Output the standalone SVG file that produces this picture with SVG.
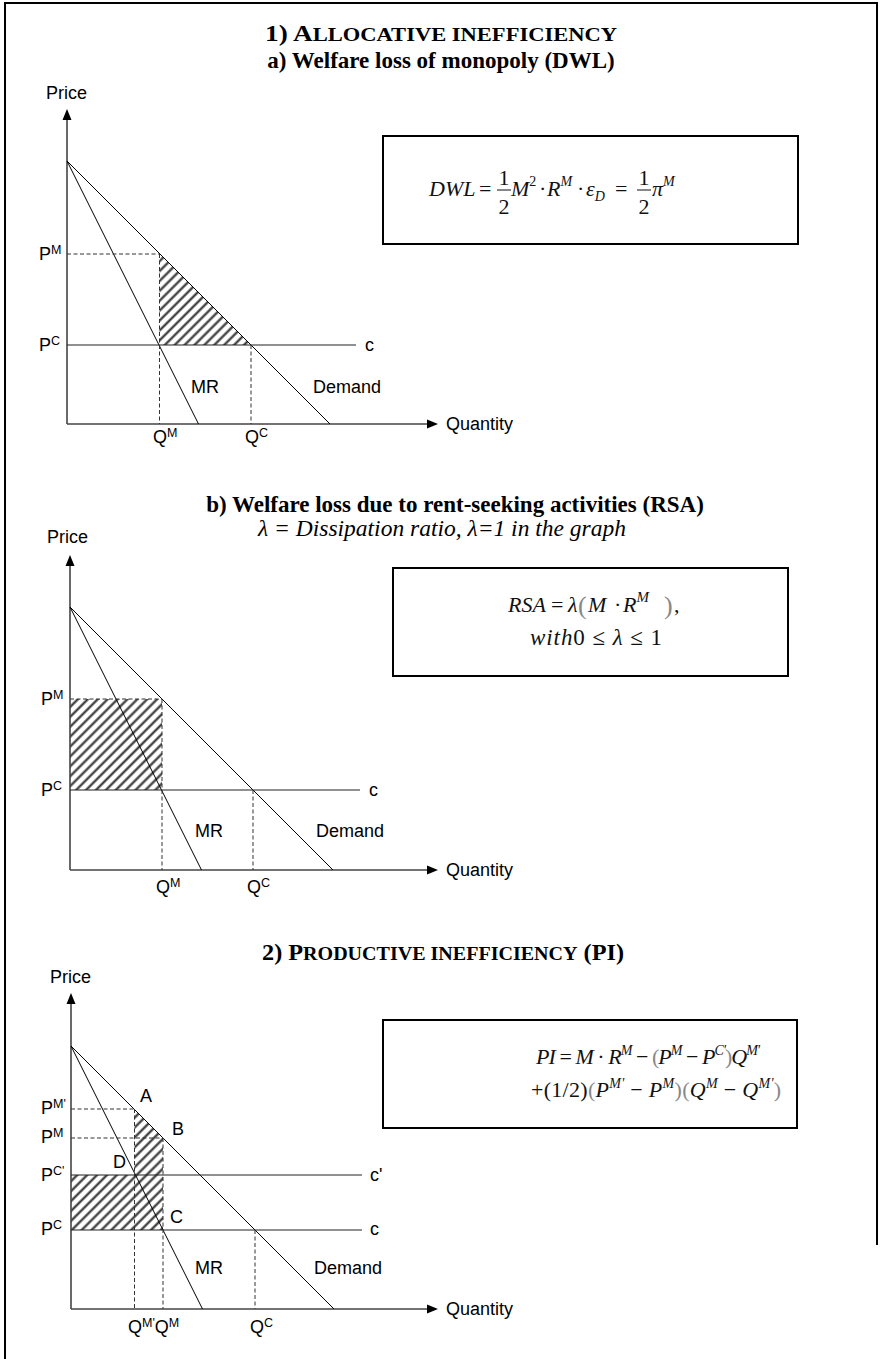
<svg xmlns="http://www.w3.org/2000/svg" width="881" height="1359" viewBox="0 0 881 1359">
<style>
.title{font-family:"Liberation Serif","Times New Roman",serif;font-weight:bold;font-size:23px;fill:#000}
.ital{font-family:"Liberation Serif","Times New Roman",serif;font-style:italic;font-size:23.5px;fill:#000}
.lbl{font-family:"Liberation Sans",Arial,sans-serif;font-size:18px;fill:#000}
.sup{font-size:12.5px}
.math{font-family:"Liberation Serif","Times New Roman",serif;font-style:italic;font-size:22px;fill:#111}
.up{font-style:normal}
.paren{font-style:normal;fill:#888}
.axis{stroke:#444;stroke-width:1.6;fill:none}
.curve{stroke:#000;stroke-width:1;fill:none}
.cost{stroke:#222;stroke-width:1.2;fill:none}
.dash{stroke:#333;stroke-width:1;stroke-dasharray:4 2.5;fill:none}
.box{fill:#fff;stroke:#000;stroke-width:2}
.frame{stroke:#000;stroke-width:2;fill:none}
.head{fill:#000}
.hatch{fill:url(#hatch);stroke:none}
</style>
<defs>
<pattern id="hatch" patternUnits="userSpaceOnUse" width="7" height="7" patternTransform="rotate(45)">
<line x1="3.5" y1="0" x2="3.5" y2="7" stroke="#333" stroke-width="2.2"/>
</pattern>
</defs>
<rect width="881" height="1359" fill="#fff"/>
<path id="frame" class="frame" d="M5,1359 V3 H877 V1245"/>

<g id="titles">
<text class="title" x="441" y="41" text-anchor="middle" textLength="352" lengthAdjust="spacingAndGlyphs">1) A<tspan font-size="19">LLOCATIVE INEFFICIENCY</tspan></text>
<text class="title" x="441" y="68" text-anchor="middle">a) Welfare loss of monopoly (DWL)</text>
<text class="title" x="455" y="512" text-anchor="middle" font-size="22">b) Welfare loss due to rent-seeking activities (RSA)</text>
<text class="ital" x="442" y="536" text-anchor="middle">λ = Dissipation ratio, λ=1 in the graph</text>
<text class="title" x="443" y="960" text-anchor="middle" textLength="362" lengthAdjust="spacingAndGlyphs">2) P<tspan font-size="19">RODUCTIVE INEFFICIENCY</tspan> (PI)</text>
</g>

<!-- Graph 1 -->
<g id="graph-dwl">
<polygon class="hatch" points="159.5,253.5 159.5,345 251,345"/>
<line class="axis" x1="67" y1="424" x2="67" y2="118"/>
<polygon class="head" points="67,109 62.5,120 71.5,120"/>
<line class="axis" x1="67" y1="424" x2="429" y2="424"/>
<polygon class="head" points="438,424 427,419.5 427,428.5"/>
<line class="curve" x1="67" y1="161" x2="330" y2="424"/>
<line class="curve" x1="67" y1="161" x2="198.5" y2="424"/>
<line class="cost" x1="67" y1="345" x2="356" y2="345"/>
<path class="dash" d="M67,254 H159.5 M159.5,254 V424 M251,345 V424"/>
<text class="lbl" x="46" y="99">Price</text>
<text class="lbl" x="39" y="260">P<tspan class="sup" dy="-6">M</tspan></text>
<text class="lbl" x="39" y="351">P<tspan class="sup" dy="-6">C</tspan></text>
<text class="lbl" x="365" y="351">c</text>
<text class="lbl" x="191" y="393">MR</text>
<text class="lbl" x="313" y="393">Demand</text>
<text class="lbl" x="153" y="443">Q<tspan class="sup" dy="-6">M</tspan></text>
<text class="lbl" x="245" y="443">Q<tspan class="sup" dy="-6">C</tspan></text>
<text class="lbl" x="446" y="430">Quantity</text>
</g>

<g id="box-dwl">
<rect class="box" x="383" y="136" width="415" height="108"/>
<g class="math">
<text x="429" y="196">DWL</text>
<text class="up" x="479" y="196">=</text>
<text class="up" x="504" y="185" text-anchor="middle">1</text>
<text class="up" x="504" y="214" text-anchor="middle">2</text>
<text x="511" y="196">M<tspan class="up" font-size="14" dy="-10">2</tspan></text>
<text class="up" x="539" y="196">·</text>
<text x="547" y="196">R<tspan font-size="14" dy="-10">M</tspan></text>
<text class="up" x="577" y="196">·</text>
<text x="586" y="196">ε<tspan font-size="14" dy="5">D</tspan></text>
<text class="up" x="615" y="196">=</text>
<text class="up" x="644" y="185" text-anchor="middle">1</text>
<text class="up" x="644" y="214" text-anchor="middle">2</text>
<text x="652" y="196">π<tspan font-size="14" dy="-10">M</tspan></text>
</g>
<line x1="637" y1="190" x2="651" y2="190" stroke="#111" stroke-width="1"/>
<line x1="497" y1="190" x2="511" y2="190" stroke="#111" stroke-width="1"/>
</g>

<!-- Graph 2 -->
<g id="graph-rsa">
<rect class="hatch" x="70" y="699" width="92" height="91"/>
<line class="axis" x1="70" y1="870" x2="70" y2="564"/>
<polygon class="head" points="70,555 65.5,566 74.5,566"/>
<line class="axis" x1="70" y1="870" x2="429" y2="870"/>
<polygon class="head" points="438,870 427,865.5 427,874.5"/>
<line class="curve" x1="70" y1="607" x2="333" y2="870"/>
<line class="curve" x1="70" y1="607" x2="201.5" y2="870"/>
<line class="cost" x1="70" y1="790" x2="360" y2="790"/>
<path class="dash" d="M70,699 H162 M162,699 V870 M253,790 V870"/>
<text class="lbl" x="47" y="543">Price</text>
<text class="lbl" x="41" y="705">P<tspan class="sup" dy="-6">M</tspan></text>
<text class="lbl" x="41" y="796">P<tspan class="sup" dy="-6">C</tspan></text>
<text class="lbl" x="369" y="796">c</text>
<text class="lbl" x="195" y="837">MR</text>
<text class="lbl" x="316" y="837">Demand</text>
<text class="lbl" x="156" y="893">Q<tspan class="sup" dy="-6">M</tspan></text>
<text class="lbl" x="247" y="893">Q<tspan class="sup" dy="-6">C</tspan></text>
<text class="lbl" x="446" y="876">Quantity</text>
</g>

<g id="box-rsa">
<rect class="box" x="393" y="568" width="395" height="108"/>
<g class="math">
<text x="508" y="612">RSA</text>
<text class="up" x="551" y="612">=</text>
<text x="568" y="612">λ</text>
<text class="paren" x="578" y="614" font-size="26">(</text>
<text x="588" y="612">M</text>
<text class="up" x="614" y="612">·</text>
<text x="623" y="612">R<tspan font-size="15" dy="-10">M</tspan></text>
<text class="paren" x="664" y="614" font-size="26">)</text>
<text class="up" x="674" y="612">,</text>
<text x="596" y="645" text-anchor="middle" font-size="23" textLength="132" lengthAdjust="spacing">with<tspan class="up">0 ≤ </tspan>λ<tspan class="up"> ≤ 1</tspan></text>
</g>
</g>

<!-- Graph 3 -->
<g id="graph-pi">
<polygon class="hatch" points="134.5,1109.5 163,1138 163,1230 71,1230 71,1175 134.5,1175"/>
<line class="axis" x1="71" y1="1309" x2="71" y2="1002"/>
<polygon class="head" points="71,993 66.5,1004 75.5,1004"/>
<line class="axis" x1="71" y1="1309" x2="429" y2="1309"/>
<polygon class="head" points="438,1309 427,1304.5 427,1313.5"/>
<line class="curve" x1="71" y1="1046" x2="334" y2="1309"/>
<line class="curve" x1="71" y1="1046" x2="202.5" y2="1309"/>
<line class="cost" x1="71" y1="1175" x2="362" y2="1175"/>
<line class="cost" x1="71" y1="1230" x2="362" y2="1230"/>
<path class="dash" d="M71,1109 H134.5 M71,1138 H163 M134.5,1109 V1309 M163,1138 V1309 M255,1230 V1309"/>
<text class="lbl" x="50" y="983">Price</text>
<text class="lbl" x="41" y="1114">P<tspan class="sup" dy="-6">M'</tspan></text>
<text class="lbl" x="41" y="1143">P<tspan class="sup" dy="-6">M</tspan></text>
<text class="lbl" x="41" y="1181">P<tspan class="sup" dy="-6">C'</tspan></text>
<text class="lbl" x="41" y="1235">P<tspan class="sup" dy="-6">C</tspan></text>
<text class="lbl" x="140" y="1102">A</text>
<text class="lbl" x="172" y="1135">B</text>
<text class="lbl" x="113" y="1168">D</text>
<text class="lbl" x="170" y="1223">C</text>
<text class="lbl" x="370" y="1181">c'</text>
<text class="lbl" x="370" y="1235">c</text>
<text class="lbl" x="195" y="1274">MR</text>
<text class="lbl" x="314" y="1274">Demand</text>
<text class="lbl" x="128" y="1333">Q<tspan class="sup" dy="-6">M'</tspan><tspan dy="6">Q</tspan><tspan class="sup" dy="-6">M</tspan></text>
<text class="lbl" x="250" y="1333">Q<tspan class="sup" dy="-6">C</tspan></text>
<text class="lbl" x="446" y="1315">Quantity</text>
</g>

<g id="box-pi">
<rect class="box" x="383" y="1020" width="414" height="108"/>
<g class="math" font-size="21">
<text x="648" y="1064" text-anchor="middle" textLength="224" lengthAdjust="spacing">PI<tspan class="up"> = </tspan>M<tspan class="up"> · </tspan>R<tspan font-size="14" dy="-9">M</tspan><tspan class="up" dy="9"> − </tspan><tspan class="paren">(</tspan>P<tspan font-size="14" dy="-9">M</tspan><tspan class="up" dy="9"> − </tspan>P<tspan font-size="14" dy="-9">C'</tspan><tspan class="paren" dy="9">)</tspan>Q<tspan font-size="14" dy="-9">M'</tspan></text>
<text x="656" y="1097" text-anchor="middle" textLength="250" lengthAdjust="spacing"><tspan class="up">+(1/2)</tspan><tspan class="paren">(</tspan>P<tspan font-size="14" dy="-9">M'</tspan><tspan class="up" dy="9"> − </tspan>P<tspan font-size="14" dy="-9">M</tspan><tspan class="paren" dy="9">)(</tspan>Q<tspan font-size="14" dy="-9">M</tspan><tspan class="up" dy="9"> − </tspan>Q<tspan font-size="14" dy="-9">M'</tspan><tspan class="paren" dy="9">)</tspan></text>
</g>
</g>
</svg>
